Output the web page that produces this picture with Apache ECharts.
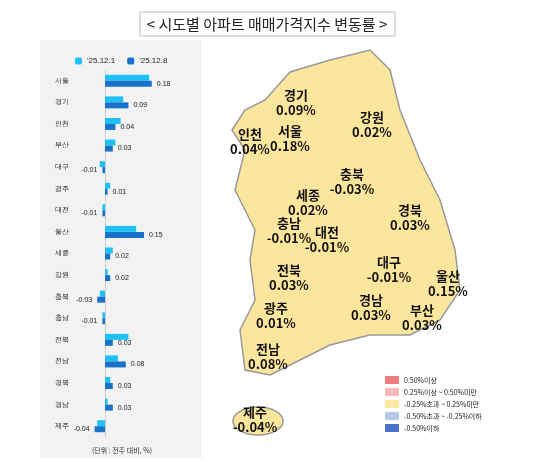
<!DOCTYPE html><html><head><meta charset="utf-8"><script src="https://cdn.jsdelivr.net/npm/echarts@6/dist/echarts.min.js"></script>
<style>body{margin:0}#c{width:533px;height:462px}</style></head><body><div id="c"></div><script>
const categories=['서울','경기','인천','부산','대구','광주','대전','울산','세종','강원','충북','충남','전북','전남','경북','경남','제주'];
const prev=[0.17,0.07,0.06,0.04,-0.02,0.02,-0.01,0.12,0.03,0.01,-0.02,-0.01,0.09,0.05,0.02,0.01,-0.03];
const curr=[0.18,0.09,0.04,0.03,-0.01,0.01,-0.01,0.15,0.02,0.02,-0.03,-0.01,0.03,0.08,0.03,0.03,-0.04];
const mapNames=['경기','인천','서울','강원','충북','세종','충남','대전','경북','전북','대구','울산','광주','경남','부산','전남','제주'];
const mapVals=['0.09%','0.04%','0.18%','0.02%','-0.03%','0.02%','-0.01%','-0.01%','0.03%','0.03%','-0.01%','0.15%','0.01%','0.03%','0.03%','0.08%','-0.04%'];
const mapPos=[[296,103],[250,142],[290,139],[372,125],[352,182],[308,203],[289,231],[327,240],[410,218],[289,278],[389,270],[448,284],[276,316],[371,308],[422,318],[268,357],[255,420]];
const legendLabels=['0.50%이상','0.25%이상 ~ 0.50%미만','-0.25%초과 ~ 0.25%미만','-0.50%초과 ~ -0.25%이하','-0.50%이하'];
const legendColors=['#ec7c7c','#f6bcbc','#fde8a0','#b7c8e8','#4a72c8'];
const ch=echarts.init(document.getElementById('c'));
const g=[];
g.push({type:'rect',shape:{x:40,y:40,width:162,height:418},style:{fill:'#f2f2f2'},z:-10});
g.push({type:'rect',shape:{x:140,y:12,width:255,height:24},style:{fill:'#fff',stroke:'#bbb'}});
g.push({type:'text',x:267,y:24,style:{text:'< 시도별 아파트 매매가격지수 변동률 >',font:'15px "Noto Sans CJK KR"',align:'center',verticalAlign:'middle',fill:'#222'}});
// simplified peninsula
g.push({type:'polygon',shape:{points:[[265,100],[290,72],[330,60],[370,50],[390,70],[400,110],[420,160],[440,200],[455,250],[460,290],[440,320],[410,335],[370,335],[330,345],[300,360],[270,375],[245,370],[240,330],[255,300],[250,260],[255,230],[235,190],[245,150],[232,130],[245,110]]},style:{fill:'#fce59c',stroke:'#999',lineWidth:1.5},z:-5});
g.push({type:'ellipse',shape:{cx:258,cy:421,rx:25,ry:14},style:{fill:'#fce59c',stroke:'#999',lineWidth:1.5},z:-5});
mapNames.forEach((n,i)=>g.push({type:'text',x:mapPos[i][0],y:mapPos[i][1],style:{text:n+'\n'+mapVals[i],font:'bold 13px "Noto Sans CJK KR"',align:'center',verticalAlign:'middle',fill:'#111',lineHeight:15}}));
legendLabels.forEach((t,i)=>{g.push({type:'rect',shape:{x:385,y:376+i*12,width:14,height:8},style:{fill:legendColors[i]}});g.push({type:'text',x:404,y:380+i*12,style:{text:t,font:'7px "Noto Sans CJK KR"',verticalAlign:'middle',fill:'#222'}});});
g.push({type:'text',x:122,y:450,style:{text:'(단위 : 전주 대비, %)',font:'7px "Noto Sans CJK KR"',align:'center',verticalAlign:'middle',fill:'#333'}});
ch.setOption({animation:false,graphic:g,
legend:{top:52,left:70,itemWidth:7,itemHeight:7,itemGap:12,textStyle:{fontSize:8,color:'#222'},data:["'25.12.1","'25.12.8"]},
grid:{left:92,width:65,top:70,bottom:25},
xAxis:{type:'value',min:-0.05,max:0.2,show:false,splitLine:{show:false}},
yAxis:{type:'category',inverse:true,data:categories,position:'left',offset:-13,axisTick:{show:false},axisLine:{show:true,onZero:true,lineStyle:{color:'#ccc'}},axisLabel:{fontSize:7,color:'#222',margin:50,align:'left'}},
series:[{name:"'25.12.1",type:'bar',data:prev,barWidth:6,barGap:'0%',itemStyle:{color:'#1fc0f5'}},
{name:"'25.12.8",type:'bar',data:curr,barWidth:6,itemStyle:{color:'#1a72c8'},label:{show:true,fontSize:7,color:'#222',formatter:p=>p.value.toFixed(2),position:'right'}}]
});
ch.setOption({series:[{},{label:{position:'right'}}]});
ch.setOption({series:[{},{data:curr.map(v=>({value:v,label:{position:v<0?'left':'right'}}))}]});
</script></body></html>
